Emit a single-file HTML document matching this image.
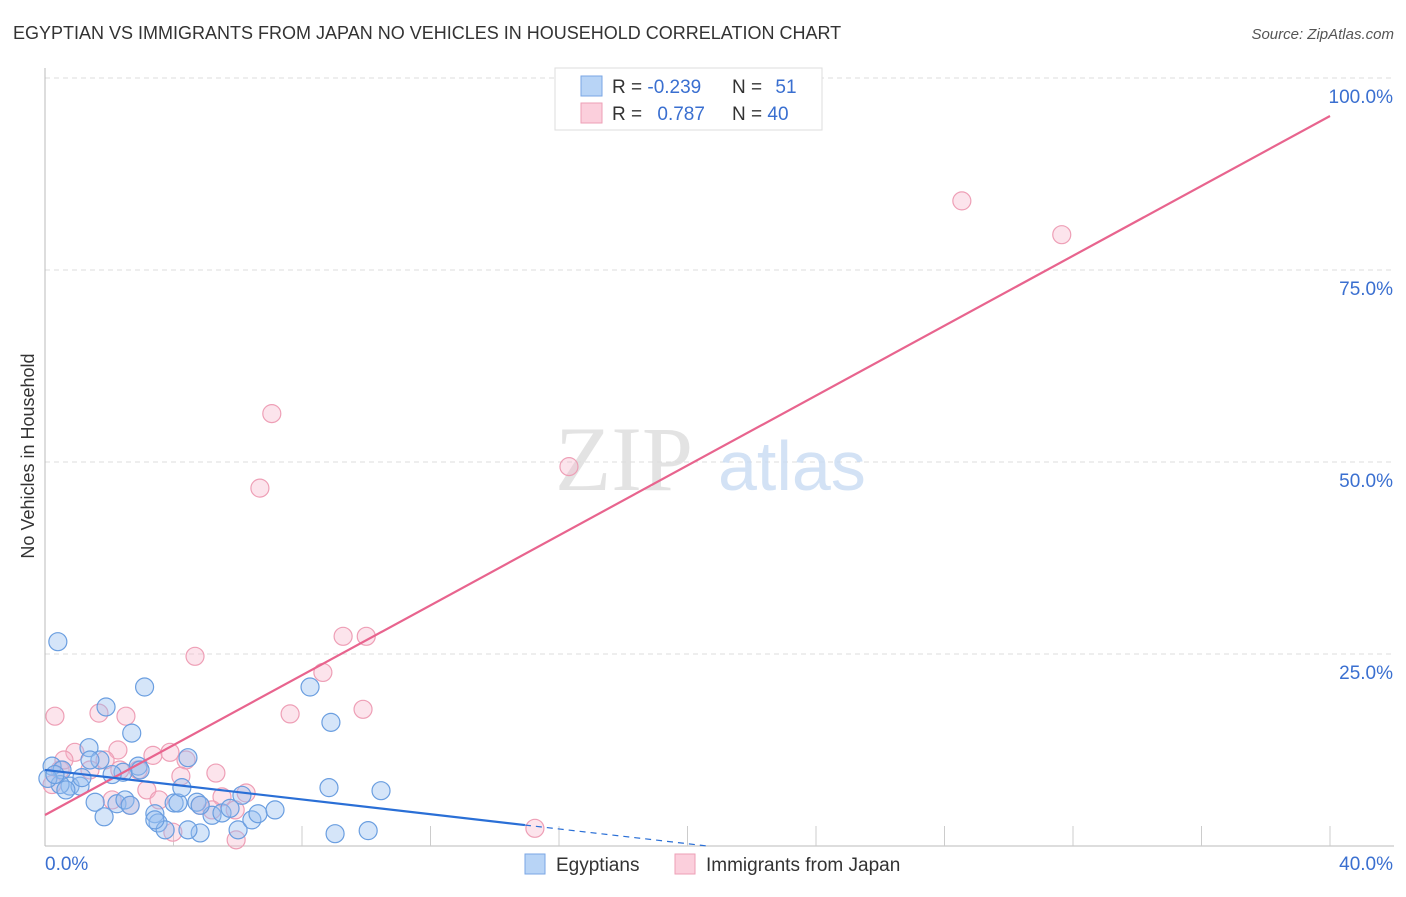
<!DOCTYPE html>
<html><head><meta charset="utf-8"><style>
body{margin:0;background:#fff;font-family:"Liberation Sans",sans-serif;}
</style></head><body>
<svg id="chart" width="1406" height="892" xmlns="http://www.w3.org/2000/svg" style="font-family:'Liberation Sans',sans-serif">
<text x="13" y="39" font-size="18" fill="#333">EGYPTIAN VS IMMIGRANTS FROM JAPAN NO VEHICLES IN HOUSEHOLD CORRELATION CHART</text>
<text x="1394" y="39" font-size="15" fill="#555" text-anchor="end" font-style="italic">Source: ZipAtlas.com</text>
<text transform="translate(34,456) rotate(-90)" font-size="18" fill="#333" text-anchor="middle">No Vehicles in Household</text>
<g id="grid"></g>
<text x="555" y="490" font-size="92" fill="#ddd" font-family="Liberation Serif" opacity="0.8">ZIP</text>
<text x="718" y="490" font-size="70" fill="#c9dcf3" opacity="0.8">atlas</text>
<g id="marks"></g>
<g>
<rect x="555" y="68" width="267" height="62" fill="#fff" stroke="#ddd"/>
<rect x="581" y="76" width="21" height="20" fill="#b8d4f6" stroke="#7aa6e4"/>
<rect x="581" y="103" width="21" height="20" fill="#fbcfdc" stroke="#ee9fb6"/>
<text x="612" y="93" font-size="19" fill="#333">R = <tspan fill="#3a6fd0">-0.239</tspan></text>
<text x="732" y="93" font-size="19" fill="#333">N = <tspan fill="#3a6fd0" dx="8">51</tspan></text>
<text x="612" y="120" font-size="19" fill="#333">R = <tspan fill="#3a6fd0" dx="10">0.787</tspan></text>
<text x="732" y="120" font-size="19" fill="#333">N = <tspan fill="#3a6fd0">40</tspan></text>
</g>
<g>
<rect x="525" y="854" width="20" height="20" fill="#b8d4f6" stroke="#7aa6e4"/>
<text x="556" y="871" font-size="19" fill="#333">Egyptians</text>
<rect x="675" y="854" width="20" height="20" fill="#fbcfdc" stroke="#ee9fb6"/>
<text x="706" y="871" font-size="19" fill="#333">Immigrants from Japan</text>
</g>
</svg>
<script>
const yTicks=[25,50,75,100];
const yTickLabels=["25.0%","50.0%","75.0%","100.0%"];
const xTickVals=[4,8,12,16,20,24,28,32,36,40];
const egyX=[0.4,3.1,1.9,2.7,8.25,8.9,1.37,4.45,2.9,2.43,1.71,0.22,0.53,0.78,1.09,1.15,1.56,1.84,2.24,2.49,2.65,3.42,3.52,4.02,4.14,4.26,4.73,4.83,5.2,5.51,6.13,6.01,6.44,6.63,7.16,8.84,10.46,9.03,10.06,4.45,0.47,2.09,0.09,0.65,0.31,3.74,4.83,3.42,5.76,1.4,2.96];
const egyY=[26.6,20.7,18.1,14.7,20.7,16.1,12.8,11.5,10.4,9.6,11.2,10.4,9.9,7.8,7.8,8.9,5.7,3.8,5.5,6.0,5.3,4.2,3.0,5.6,5.6,7.6,5.7,1.7,4.0,4.3,6.6,2.1,3.4,4.2,4.7,7.6,7.2,1.6,2.0,2.1,8.0,9.3,8.8,7.3,9.3,2.1,5.3,3.4,4.9,11.2,9.9];
const jpX=[28.54,31.65,7.06,6.69,16.31,4.67,9.28,10.0,8.65,7.63,9.9,0.31,1.68,2.52,2.27,3.36,3.89,4.39,0.93,1.87,0.47,5.32,4.23,3.17,3.55,2.65,4.83,5.51,6.26,3.98,5.95,5.2,15.25,0.22,1.4,2.09,0.59,2.9,5.92,2.33];
const jpY=[84.0,79.6,56.3,46.6,49.4,24.7,27.3,27.3,22.6,17.2,17.8,16.9,17.3,16.9,12.5,11.8,12.2,11.2,12.2,11.2,9.9,9.5,9.1,7.3,6.0,5.3,5.3,6.4,6.9,1.8,0.8,4.7,2.3,8.0,9.9,6.0,11.2,9.9,4.7,9.9];
const jpTrend=[4.04,95.05];
const egyTrend=[9.9,-0.48];
const NS="http://www.w3.org/2000/svg";
const X=v=>45+v*32.125, Y=v=>846-v*7.68;
function mk(t,a,p){const e=document.createElementNS(NS,t);for(const k in a)e.setAttribute(k,a[k]);p.appendChild(e);return e;}
const g=document.getElementById('grid'),m=document.getElementById('marks');
yTicks.forEach((t,i)=>{
 const l=mk('line',{x1:45,x2:1394,y1:Y(t),y2:Y(t),stroke:'#ddd','stroke-dasharray':'5,4'},g);
 
 
 const tx=mk('text',{x:1393,y:Y(t)+25,'font-size':19,fill:'#3a6fd0','text-anchor':'end'},g);tx.textContent=yTickLabels[i];
 
 
});
const ax=mk('line',{x1:45,x2:1394,y1:846,y2:846,stroke:'#bbb'},g);


const ay=mk('line',{x1:45,x2:45,y1:68,y2:846,stroke:'#bbb'},g);


xTickVals.forEach(t=>{const l=mk('line',{x1:X(t),x2:X(t),y1:826,y2:846,stroke:'#ccc'},g);
 
 });
const x0=mk('text',{x:45,y:870,'font-size':19,fill:'#3a6fd0'},g);x0.textContent='0.0%';


const x1=mk('text',{x:1393,y:870,'font-size':19,fill:'#3a6fd0','text-anchor':'end'},g);x1.textContent='40.0%';


jpX.forEach((v,i)=>{const c=mk('circle',{cx:X(v),cy:Y(jpY[i]),r:9,fill:'rgba(246,178,200,0.35)',stroke:'#ee9fb6','stroke-width':1.2},m);
 
 });
egyX.forEach((v,i)=>{const c=mk('circle',{cx:X(v),cy:Y(egyY[i]),r:9,fill:'rgba(150,190,240,0.4)',stroke:'#6a9ee0','stroke-width':1.2},m);
 
 });
const pl=mk('line',{x1:X(0),y1:Y(jpTrend[0]),x2:X(40),y2:Y(jpTrend[1]),stroke:'#e8648e','stroke-width':2.2},m);


const bl=mk('line',{x1:X(0),y1:Y(egyTrend[0]),x2:X(14.94),y2:Y(egyTrend[0]+egyTrend[1]*14.94),stroke:'#2a6fd6','stroke-width':2.2},m);


const bd=mk('line',{x1:X(14.94),y1:Y(egyTrend[0]+egyTrend[1]*14.94),x2:X(20.6),y2:Y(egyTrend[0]+egyTrend[1]*20.6),stroke:'#2a6fd6','stroke-width':1.2,'stroke-dasharray':'6,5'},m);


</script>
</body></html>
